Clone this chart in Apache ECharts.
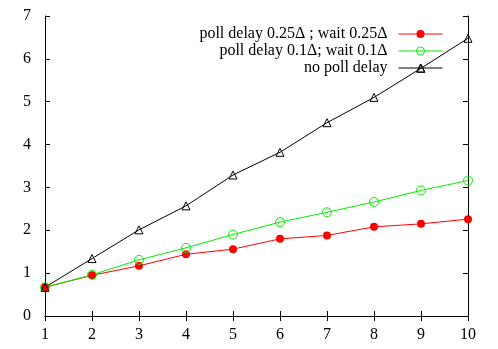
<!DOCTYPE html>
<html><head><meta charset="utf-8">
<script src="https://cdn.jsdelivr.net/npm/echarts@6/dist/echarts.min.js"></script>
<style>html,body{margin:0;padding:0;background:#fff}#c{width:498px;height:349px}</style>
</head><body><div id="c"></div>
<script>
const xValues = [1,2,3,4,5,6,7,8,9,10];
const red = [0.67,0.95,1.17,1.44,1.56,1.80,1.88,2.08,2.15,2.26];
const green = [0.67,0.96,1.31,1.59,1.90,2.19,2.42,2.66,2.93,3.16];
const black = [0.67,1.34,2.01,2.57,3.29,3.82,4.51,5.10,5.78,6.48];
const names = ['poll delay 0.25\u0394 ; wait 0.25\u0394','poll delay 0.1\u0394; wait 0.1\u0394','no poll delay'];
const font = '"Liberation Serif", "DejaVu Serif", serif';
const pts = a => a.map((v,i)=>[xValues[i],v]);
const lbl = {fontFamily:font,fontSize:16,color:'#000'};
const axBase = {
  axisLine:{show:true,lineStyle:{color:'#000',width:1}},
  axisTick:{show:true,inside:true,length:5,lineStyle:{color:'#000'}},
  splitLine:{show:false}
};
const chart = echarts.init(document.getElementById('c'));
const legendTops = [21,38,55];
chart.setOption({
  animation:false,
  textStyle:{fontFamily:font},
  grid:{left:45,right:30,top:16,bottom:33},
  legend: names.map((n,i)=>({
    data:[n], right:50, top:legendTops[i], align:'right', itemWidth:44, itemHeight:10, itemGap:0,
    lineStyle:{width:1}, itemStyle:{borderWidth:1},
    textStyle:{fontFamily:font,fontSize:16,color:'#000',padding:[0,6,0,0]}, selectedMode:false
  })),
  xAxis:[
    Object.assign({type:'value',min:1,max:10,interval:1,position:'bottom',
      axisLabel:Object.assign({margin:11},lbl)},axBase),
    Object.assign({type:'value',min:1,max:10,interval:1,position:'top',axisLabel:{show:false}},axBase)
  ],
  yAxis:[
    Object.assign({type:'value',min:0,max:7,interval:1,position:'left',
      axisLabel:Object.assign({margin:14},lbl)},axBase),
    Object.assign({type:'value',min:0,max:7,interval:1,position:'right',axisLabel:{show:false}},axBase)
  ],
  series:[
    {name:names[0],type:'line',data:pts(red),color:'#ff0000',symbol:'circle',symbolSize:8,
      lineStyle:{width:1,color:'#ff0000'},itemStyle:{color:'#ff0000'}},
    {name:names[1],type:'line',data:pts(green),color:'#00ee00',symbol:'circle',symbolSize:9,
      lineStyle:{width:1,color:'#00ee00'},itemStyle:{color:'transparent',borderColor:'#00ee00',borderWidth:1}},
    {name:names[2],type:'line',data:pts(black),color:'#000',symbol:'triangle',symbolSize:8,
      lineStyle:{width:1,color:'#000'},itemStyle:{color:'transparent',borderColor:'#000',borderWidth:1}}
  ]
});
</script></body></html>
